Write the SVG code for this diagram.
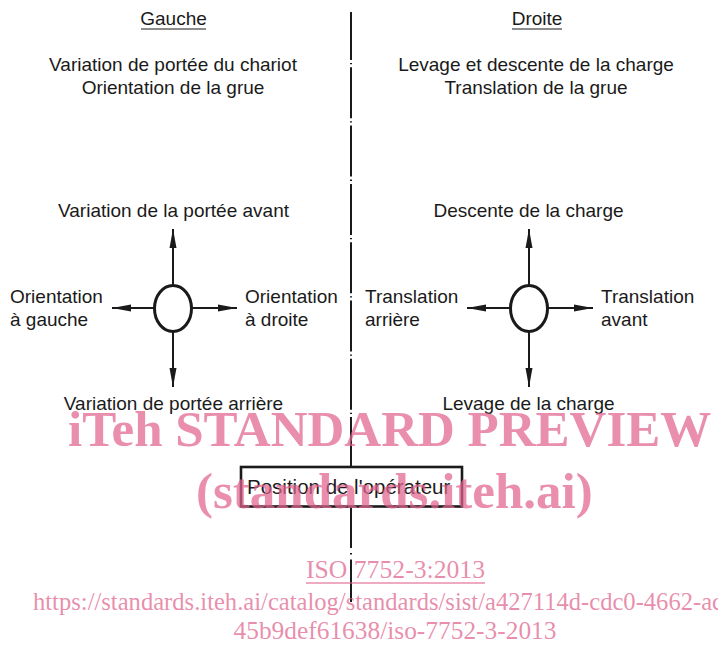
<svg xmlns="http://www.w3.org/2000/svg" width="718" height="646" viewBox="0 0 718 646">
<style>
text{font-family:"Liberation Sans",Arial,sans-serif;fill:#1a1a1a}
.t{font-size:19px}
.m{text-anchor:middle}
.ax{stroke:#1a1a1a;stroke-width:2;fill:none}
.hub{stroke:#1a1a1a;stroke-width:3;fill:#fff}
.wm{font-family:"Liberation Serif","Times New Roman",serif;fill:#e0628c;fill-opacity:0.72}
</style>
<defs>
<marker id="ah" markerUnits="userSpaceOnUse" markerWidth="20" markerHeight="10" refX="19" refY="4" orient="auto">
<path d="M0,0.5 L19,4 L0,7.5 Z" fill="#1a1a1a"/>
</marker>
</defs>
<rect width="718" height="646" fill="#fff"/>
<g id="headers">
<text class="t m" x="173.5" y="25">Gauche</text>
<line x1="141" y1="29" x2="206" y2="29" stroke="#1a1a1a" stroke-width="1.2"/>
<text class="t m" x="537" y="25">Droite</text>
<line x1="512" y1="29" x2="562" y2="29" stroke="#1a1a1a" stroke-width="1.2"/>
<text class="t m" x="173" y="71">Variation de portée du chariot</text>
<text class="t m" x="173" y="94">Orientation de la grue</text>
<text class="t m" x="536" y="71">Levage et descente de la charge</text>
<text class="t m" x="536" y="94">Translation de la grue</text>
</g>
<g id="connectors">
<line class="ax" x1="351" y1="12" x2="351" y2="467" stroke-dasharray="51 3 1.3 3" stroke-dashoffset="3"/>
<line class="ax" x1="351" y1="507" x2="351" y2="602" stroke-dasharray="41 5 1.5 5 60"/>
<line class="ax" x1="173" y1="286" x2="173" y2="229" marker-end="url(#ah)"/>
<line class="ax" x1="173" y1="332" x2="173" y2="387" marker-end="url(#ah)"/>
<line class="ax" x1="155" y1="308" x2="112" y2="308" marker-end="url(#ah)"/>
<line class="ax" x1="192" y1="308" x2="237" y2="308" marker-end="url(#ah)"/>
<line class="ax" x1="529" y1="286" x2="529" y2="229" marker-end="url(#ah)"/>
<line class="ax" x1="529" y1="332" x2="529" y2="387" marker-end="url(#ah)"/>
<line class="ax" x1="511" y1="308" x2="467" y2="308" marker-end="url(#ah)"/>
<line class="ax" x1="548" y1="308" x2="593" y2="308" marker-end="url(#ah)"/>
</g>
<g id="left-control">
<ellipse class="hub" cx="173" cy="308.5" rx="18.5" ry="23"/>
<text class="t m" x="173.5" y="217">Variation de la portée avant</text>
<text class="t" x="10" y="303">Orientation</text>
<text class="t" x="10" y="326">à gauche</text>
<text class="t" x="245" y="303">Orientation</text>
<text class="t" x="245" y="326">à droite</text>
<text class="t m" x="173.5" y="410">Variation de portée arrière</text>
</g>
<g id="right-control">
<ellipse class="hub" cx="529" cy="308.5" rx="18.5" ry="23"/>
<text class="t m" x="528.5" y="217">Descente de la charge</text>
<text class="t" x="365" y="303">Translation</text>
<text class="t" x="365" y="326">arrière</text>
<text class="t" x="601" y="303">Translation</text>
<text class="t" x="601" y="326">avant</text>
<text class="t m" x="528.5" y="410">Levage de la charge</text>
</g>
<g id="operator">
<rect x="241" y="467" width="221" height="39.5" fill="#fff" stroke="#1a1a1a" stroke-width="2.6"/>
<text x="247" y="494" font-size="20.5">Position de l'opérateur</text>
</g>
<g id="watermark">
<text class="wm" x="68" y="446" font-size="51" font-weight="bold">iTeh STANDARD PREVIEW</text>
<text class="wm" x="196" y="508" font-size="51" font-weight="bold">(standards.iteh.ai)</text>
<text class="wm m" x="395.5" y="578" font-size="26" textLength="179" lengthAdjust="spacingAndGlyphs">ISO 7752-3:2013</text>
<line x1="306" y1="583" x2="485" y2="583" stroke="#e0628c" stroke-opacity="0.72" stroke-width="1.3"/>
<text class="wm" x="33" y="610" font-size="26" textLength="690" lengthAdjust="spacingAndGlyphs">https://standards.iteh.ai/catalog/standards/sist/a427114d-cdc0-4662-ac</text>
<text class="wm m" x="395" y="639" font-size="26" textLength="323" lengthAdjust="spacingAndGlyphs">45b9def61638/iso-7752-3-2013</text>
</g>
</svg>
